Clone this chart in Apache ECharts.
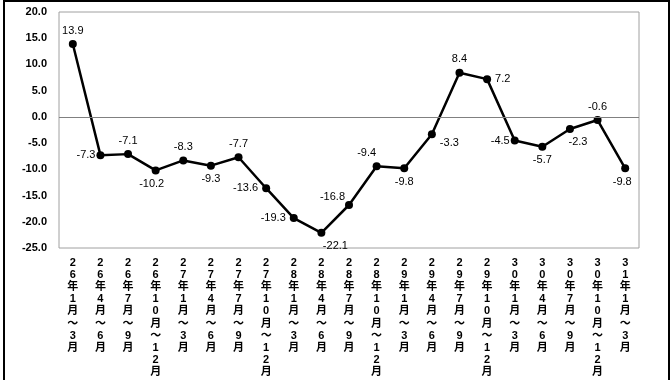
<!DOCTYPE html>
<html><head><meta charset="utf-8">
<script src="https://cdn.jsdelivr.net/npm/echarts@6/dist/echarts.min.js"></script>
<style>html,body{margin:0;padding:0;background:#fff}#c{width:671px;height:380px}</style>
</head><body><div id="c"></div>
<script>
const categories = ["26年1月～3月","26年4月～6月","26年7月～9月","26年10月～12月","27年1月～3月","27年4月～6月","27年7月～9月","27年10月～12月","28年1月～3月","28年4月～6月","28年7月～9月","28年10月～12月","29年1月～3月","29年4月～6月","29年7月～9月","29年10月～12月","30年1月～3月","30年4月～6月","30年7月～9月","30年10月～12月","31年1月～3月"];
const values = [13.9,-7.3,-7.1,-10.2,-8.3,-9.3,-7.7,-13.6,-19.3,-22.1,-16.8,-9.4,-9.8,-3.3,8.4,7.2,-4.5,-5.7,-2.3,-0.6,-9.8];
const labelPositions = ["top","left","top","bottom","top","bottom","top","left","left","bottom","left","top","bottom","right","top","right","left","bottom","bottom","top","bottom"];
const labelOffsets = [[0,0],[3,0],[0,0],[-4,0],[0,0],[0,0],[0,0],[0,0],[0,0],[14,0],[4,-8],[-10,0],[0,0],[0,9],[0,0],[0,0],[3,0],[0,0],[8,0],[0,0],[-3,0]];
const yTicks = {min:-25, max:20, interval:5};

const font = '"Liberation Sans","Noto Sans CJK JP",sans-serif';
const chart = echarts.init(document.getElementById('c'));
chart.setOption({
  animation:false,
  grid:{left:59, top:12, right:32, bottom:132, show:true, borderColor:'#a0a0a0', borderWidth:1, containLabel:false},
  graphic:[{type:'rect', shape:{x:4, y:1, width:665, height:420}, style:{fill:'none', stroke:'#000', lineWidth:2}, silent:true}],
  xAxis:{type:'category', data:categories, boundaryGap:true,
    axisLine:{show:false}, axisTick:{show:false}, splitLine:{show:false},
    axisLabel:{interval:0, margin:9, color:'#000', fontFamily:font, fontWeight:'bold', fontSize:11, lineHeight:12.1, verticalAlign:'top',
      formatter:v=>v.split('').join('\n')}},
  yAxis:{type:'value', min:yTicks.min, max:yTicks.max, interval:yTicks.interval,
    axisLine:{show:false}, axisTick:{show:false}, splitLine:{show:false},
    axisLabel:{margin:12, color:'#000', fontFamily:font, fontWeight:'bold', fontSize:11, formatter:v=>v.toFixed(1)}},
  series:[{type:'line', data:values.map((v,i)=>({value:v, label:{position:labelPositions[i], offset:labelOffsets[i]}})),
    symbol:'circle', symbolSize:8, itemStyle:{color:'#000'}, lineStyle:{color:'#000', width:2.5},
    label:{show:true, color:'#000', fontFamily:font, fontSize:11, distance:4, formatter:p=>p.value.toFixed(1)},
    markLine:{silent:true, symbol:'none', label:{show:false}, lineStyle:{color:'#808080', width:1, type:'solid'}, data:[{yAxis:0}]}
  }]
});
</script></body></html>
